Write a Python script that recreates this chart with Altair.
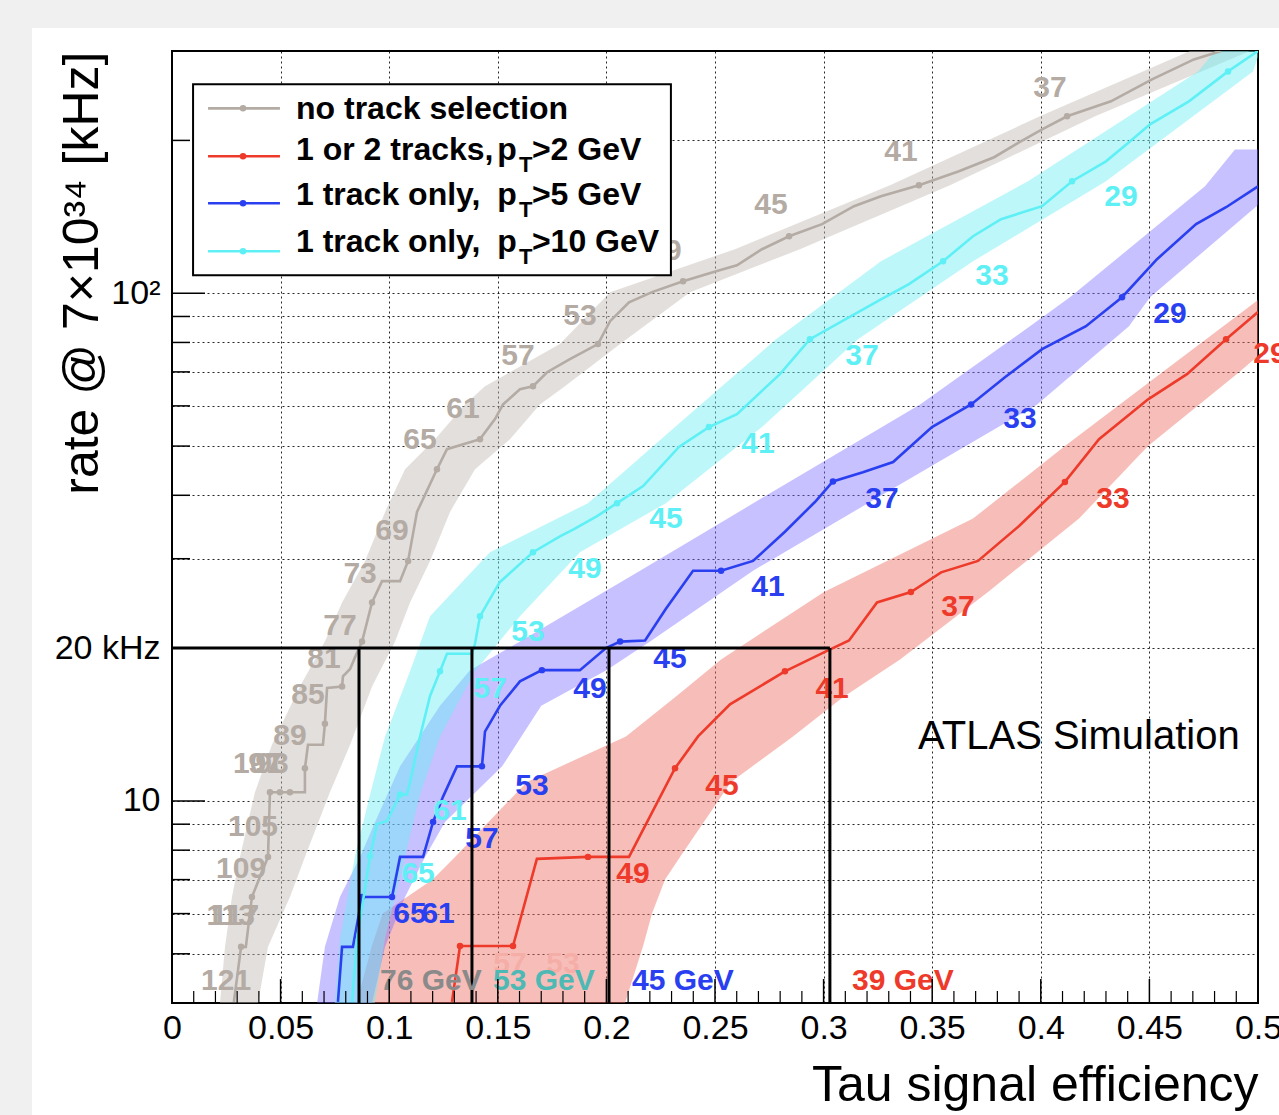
import altair as alt
import pandas as pd

W, H = 1086, 952
FONT = "Liberation Sans"

# ---------------- curves (efficiency, rate in kHz) ----------------
# no track selection (gray)
gray_eff = [0.0285, 0.0318, 0.0340, 0.0368, 0.0442, 0.0451, 0.0497, 0.0543, 0.0612, 0.0612,
            0.0626, 0.0695, 0.0704, 0.0714, 0.0783, 0.0787, 0.0820, 0.0843, 0.0875, 0.0921,
            0.0967, 0.1050, 0.1087, 0.1128, 0.1220, 0.1266, 0.1418, 0.1487, 0.1524, 0.1602,
            0.1662, 0.1727, 0.1832, 0.1961, 0.2017, 0.2104, 0.2210, 0.2353, 0.2505, 0.2601,
            0.2716, 0.2841, 0.2993, 0.3140, 0.3264, 0.3439, 0.3623, 0.3785, 0.3900, 0.4006,
            0.4121, 0.4323, 0.4512, 0.4705, 0.4830]
gray_rate = [4.02, 5.16, 5.16, 6.47, 7.76, 10.4, 10.4, 10.4, 10.4, 11.6,
             12.9, 12.9, 14.2, 16.7, 16.8, 17.6, 18.2, 19.2, 20.6, 24.6,
             27.1, 27.1, 29.7, 37.1, 45.0, 49.3, 51.6, 56.5, 60.4, 64.7,
             65.6, 69.9, 74.2, 79.4, 88.1, 96.0, 100.5, 105.6, 110.5, 113.5,
             122.1, 129.5, 136.8, 148.4, 155.2, 163.2, 173.9, 185.3, 198.3, 210.3,
             223.1, 238.8, 263.8, 288.8, 300.0]
gray_mark = [0, 1, 0, 1, 1, 1, 1, 1, 0, 1,
             0, 0, 1, 0, 1, 0, 0, 0, 1, 1,
             0, 0, 1, 0, 1, 0, 1, 0, 0, 0,
             1, 0, 0, 1, 0, 0, 0, 1, 0, 0,
             0, 1, 0, 0, 0, 1, 0, 0, 0, 0,
             1, 0, 0, 0, 0]

# 1 track only, pT > 10 GeV (cyan)
cyan_eff = [0.0829, 0.0852, 0.0912, 0.0944, 0.0990, 0.1050, 0.1082, 0.1096, 0.1142, 0.1188,
            0.1234, 0.1266, 0.1381, 0.1395, 0.1418, 0.1464, 0.1510, 0.1662, 0.1786, 0.1851,
            0.1957, 0.2049, 0.2169, 0.2334, 0.2472, 0.2601, 0.2799, 0.2937, 0.3264, 0.3393,
            0.3550, 0.3688, 0.3817, 0.4006, 0.4144, 0.4300, 0.4406, 0.4503, 0.4682, 0.4862,
            0.5000]
cyan_rate = [4.02, 5.35, 7.79, 9.01, 9.13, 10.3, 10.3, 10.9, 13.4, 16.1,
             18.0, 19.5, 19.5, 20.4, 23.1, 25.0, 27.0, 30.9, 33.2, 34.3,
             36.4, 38.6, 41.7, 49.8, 54.5, 57.8, 69.3, 81.2, 97.3, 104.2,
             115.6, 129.5, 139.9, 148.4, 166.2, 181.9, 198.3, 215.1, 238.8, 273.5,
             300.0]
cyan_mark = [0, 0, 1, 0, 0, 1, 0, 0, 0, 0,
             1, 0, 0, 0, 1, 0, 0, 1, 0, 0,
             0, 1, 0, 0, 1, 0, 0, 1, 0, 0,
             1, 0, 0, 0, 1, 0, 0, 0, 0, 1,
             0]

# 1 track only, pT > 5 GeV (blue)
blue_eff = [0.0764, 0.0783, 0.0833, 0.0875, 0.1013, 0.1050, 0.1156, 0.1202, 0.1248, 0.1312,
            0.1427, 0.1441, 0.1510, 0.1602, 0.1703, 0.1878, 0.1998, 0.2063, 0.2178, 0.2274,
            0.2399, 0.2528, 0.2675, 0.2822, 0.2960, 0.3043, 0.3181, 0.3320, 0.3499, 0.3679,
            0.3835, 0.4006, 0.4208, 0.4374, 0.4535, 0.4715, 0.4853, 0.5000]
blue_rate = [4.02, 5.16, 5.16, 6.47, 6.47, 7.76, 7.76, 9.09, 10.2, 11.7,
             11.7, 13.7, 15.4, 17.2, 18.1, 18.1, 20.0, 20.6, 20.7, 23.9,
             28.4, 28.4, 29.7, 33.9, 38.8, 42.6, 44.4, 46.5, 54.5, 60.4,
             68.3, 77.6, 86.1, 98.2, 116.7, 136.8, 147.7, 162.4]
blue_mark = [0, 0, 0, 1, 1, 0, 0, 1, 0, 0,
             1, 0, 0, 0, 1, 0, 0, 1, 0, 0,
             0, 1, 0, 0, 0, 1, 0, 0, 0, 1,
             0, 0, 0, 1, 0, 0, 0, 0]

# 1 or 2 tracks, pT > 2 GeV (red)
red_eff = [0.1289, 0.1326, 0.1570, 0.1680, 0.1915, 0.2104, 0.2316, 0.2422, 0.2569, 0.2822,
           0.3011, 0.3117, 0.3246, 0.3402, 0.3541, 0.3711, 0.3900, 0.4111, 0.4268, 0.4494,
           0.4673, 0.4853, 0.5000]
red_rate = [4.02, 5.18, 5.18, 7.69, 7.76, 7.76, 11.6, 13.4, 15.5, 18.0,
            19.7, 20.7, 24.6, 25.8, 28.2, 29.7, 34.8, 42.5, 51.6, 61.8,
            69.3, 81.2, 91.8]
red_mark = [0, 1, 1, 0, 1, 0, 1, 0, 0, 1,
            0, 0, 0, 1, 0, 0, 0, 1, 0, 0,
            0, 1, 0]

# ---------------- uncertainty bands (rate, efficiency low, efficiency high) ----------------
gray_band_rate = [4.0, 5.16, 6.47, 7.76, 10.4, 12.9, 16.8, 20.6, 24.6, 29.7, 37.1, 45.0, 51.6,
                  60.4, 65.6, 79.4, 100.5, 122.1, 163.2, 223.1, 300.0]
gray_band_lo = [0.0221, 0.0244, 0.0276, 0.0313, 0.0382, 0.0460, 0.0589, 0.0704, 0.0783, 0.0889,
                0.0981, 0.1073, 0.1211, 0.1349, 0.1441, 0.1786, 0.2017, 0.2592, 0.3306, 0.3996, 0.4687]
gray_band_hi = [0.0396, 0.0442, 0.0543, 0.0612, 0.0727, 0.0820, 0.0921, 0.1027, 0.1096, 0.1188,
                0.1280, 0.1395, 0.1556, 0.1694, 0.1809, 0.2063, 0.2385, 0.2891, 0.3582, 0.4250, 0.4963]

cyan_band_rate = [4.0, 5.35, 7.8, 10.3, 13.4, 18.0, 23.1, 30.9, 38.6, 54.5, 81.2, 115.6, 166.2, 273.5, 300.0]
cyan_band_lo = [0.0750, 0.0773, 0.0843, 0.0912, 0.0981, 0.1096, 0.1188, 0.1464, 0.1915, 0.2316,
                0.2781, 0.3264, 0.3941, 0.4724, 0.4802]
cyan_band_hi = [0.0934, 0.0980, 0.1073, 0.1142, 0.1234, 0.1395, 0.1602, 0.1878, 0.2274, 0.2716,
                0.3158, 0.3688, 0.4300, 0.4977, 0.5009]

blue_band_rate = [4.0, 5.16, 6.47, 7.76, 9.09, 11.7, 15.4, 18.1, 20.6, 28.4, 42.6, 60.4, 86.1, 98.2, 162.4, 192.0]
blue_band_lo = [0.0668, 0.0704, 0.0773, 0.0866, 0.0935, 0.1050, 0.1234, 0.1372, 0.1602, 0.2155,
                0.2845, 0.3444, 0.3950, 0.4134, 0.4756, 0.4894]
blue_band_hi = [0.0921, 0.0981, 0.1073, 0.1165, 0.1257, 0.1520, 0.1700, 0.2000, 0.2201, 0.2675,
                0.3375, 0.3983, 0.4406, 0.4503, 0.5100, 0.5300]

red_band_rate = [4.0, 5.18, 6.0, 7.0, 7.76, 10.9, 13.4, 16.0, 19.0, 25.8, 36.0, 50.0, 69.3, 97.0]
red_band_lo = [0.0850, 0.0920, 0.0970, 0.1200, 0.1303, 0.1634, 0.2090, 0.2316, 0.2528, 0.3002,
               0.3688, 0.4111, 0.4549, 0.5000]
red_band_hi = [0.2086, 0.2169, 0.2210, 0.2270, 0.2339, 0.2574, 0.2859, 0.3089, 0.3352, 0.3757,
               0.4176, 0.4494, 0.4903, 0.5300]

# ---------------- threshold labels (GeV) ----------------
gray_lab = ["121", "113", "117", "109", "105", "101", "97", "93", "89", "85", "81", "77", "73",
            "69", "65", "61", "57", "53", "49", "45", "41", "37"]
gray_lab_x = [0.0249, 0.0270, 0.0290, 0.0318, 0.0373, 0.0396, 0.0428, 0.0460, 0.0543, 0.0626,
              0.0700, 0.0773, 0.0866, 0.1013, 0.1142, 0.1340, 0.1593, 0.1878, 0.2270, 0.2758,
              0.3356, 0.4042]
gray_lab_y = [4.42, 5.94, 5.94, 7.35, 8.89, 11.8, 11.8, 11.8, 13.4, 16.2, 19.0, 22.1, 28.0,
              34.0, 51.4, 59.1, 75.2, 90.1, 121.0, 149.0, 190.0, 254.0]

cyan_lab = ["65", "61", "57", "53", "49", "45", "41", "37", "33", "29"]
cyan_lab_x = [0.1133, 0.1280, 0.1464, 0.1639, 0.1901, 0.2274, 0.2698, 0.3177, 0.3775, 0.4369]
cyan_lab_y = [7.18, 9.56, 16.6, 21.5, 28.6, 35.9, 50.4, 75.2, 108.0, 155.0]

blue_lab = ["65", "61", "57", "53", "49", "45", "41", "37", "33", "29"]
blue_lab_x = [0.1096, 0.1225, 0.1427, 0.1657, 0.1924, 0.2293, 0.2744, 0.3269, 0.3904, 0.4595]
blue_lab_y = [5.99, 5.99, 8.42, 10.7, 16.6, 19.0, 26.4, 39.3, 56.5, 90.9]

red_lab = ["49", "45", "41", "37", "33", "29"]
red_lab_x = [0.2122, 0.2532, 0.3039, 0.3619, 0.4332, 0.5055]
red_lab_y = [7.18, 10.7, 16.6, 24.1, 39.3, 75.9]
red_faint_lab = ["57", "53"]
red_faint_x = [0.1556, 0.1800]
red_faint_y = [4.78, 4.78]

# ---------------- 20 kHz working points ----------------
rate_target = 20.0
wp_eff = [0.0861, 0.1381, 0.2012, 0.3029]
wp_text = ["76 GeV", "53 GeV", "45 GeV", "39 GeV"]
wp_text_x = [0.0958, 0.1478, 0.2118, 0.3131]
wp_text_y = 4.42
wp_colors = ["#8a8a8a", "#4cb9b5", "#2a40f0", "#ee3a2a"]

# ---------------- legend ----------------
leg_first = ["no track selection", "1 or 2 tracks,", "1 track only,", "1 track only,"]
leg_tail = [">2 GeV", ">5 GeV", ">10 GeV"]
leg_text_rate = [230.3, 191.2, 155.9, 126.0]
leg_line_rate = [231.3, 186.1, 150.4, 121.0]

# ---------------- axes ----------------
x_tick_values = [0, 0.05, 0.1, 0.15, 0.2, 0.25, 0.3, 0.35, 0.4, 0.45, 0.5]
y_grid_values = [4, 5, 6, 7, 8, 9, 10, 20, 30, 40, 50, 60, 70, 80, 90, 100, 200, 300]
y_major_ticks = [10, 100]
y_minor_ticks = [4, 5, 6, 7, 8, 9, 20, 30, 40, 50, 60, 70, 80, 90, 200, 300]
x_minor_ticks = [round(0.01 * i, 2) for i in range(1, 50) if i % 5 != 0]

COL_GRAY, COL_RED, COL_BLUE, COL_CYAN = "#b3aba4", "#ee3a2a", "#2a3ff0", "#5ef0f5"

x_scale = alt.Scale(domain=[0, 0.5], nice=False, zero=False)
y_scale = alt.Scale(type="log", domain=[4, 300], nice=False)

x_axis = alt.Axis(values=x_tick_values, format=".2~f", labelFontSize=34, labelPadding=8,
                  labelFlush=False, labelColor="black", ticks=False, domain=False,
                  grid=True, gridColor="black", gridDash=[2, 3], gridWidth=1, gridOpacity=0.85,
                  title="Tau signal efficiency", titleFontSize=50, titleFontWeight="normal",
                  titleColor="black", titleX=W, titleY=97, titleAlign="right",
                  titleBaseline="alphabetic")
y_axis = alt.Axis(values=y_grid_values,
                  labelExpr="datum.value == 100 ? '10²' : datum.value == 20 ? '20 kHz' : datum.value == 10 ? '10' : ''",
                  labelFontSize=34, labelPadding=12, labelOverlap=False, labelColor="black",
                  ticks=False, domain=False,
                  grid=True, gridColor="black", gridDash=[2, 3], gridWidth=1, gridOpacity=0.85,
                  title="rate @ 7×10³⁴ [kHz]", titleFontSize=50, titleFontWeight="normal",
                  titleColor="black", titleAngle=270, titleX=-90, titleY=0,
                  titleAlign="right", titleBaseline="middle")


def X(f):
    return alt.X(f"{f}:Q", scale=x_scale, axis=x_axis)


def Y(f):
    return alt.Y(f"{f}:Q", scale=y_scale, axis=y_axis)


layers = []

# page border strips (screenshot frame)
one = pd.DataFrame({"k": [0]})
layers.append(alt.Chart(one).mark_rect(color="#f0f0f0").encode(
    x=alt.value(-172), x2=alt.value(W + 21), y=alt.value(-51), y2=alt.value(-23)))
layers.append(alt.Chart(one).mark_rect(color="#f0f0f0").encode(
    x=alt.value(-172), x2=alt.value(-140), y=alt.value(-51), y2=alt.value(H + 112)))

# bands
bands = [
    (gray_band_rate, gray_band_lo, gray_band_hi, "#c2b9b1", 0.45),
    (red_band_rate, red_band_lo, red_band_hi, "#ee6f63", 0.45),
    (blue_band_rate, blue_band_lo, blue_band_hi, "#7a6cff", 0.42),
    (cyan_band_rate, cyan_band_lo, cyan_band_hi, "#6ceef3", 0.45),
]
for r, lo, hi, col, op in bands:
    df = pd.DataFrame({"rate": r, "lo": lo, "hi": hi})
    layers.append(alt.Chart(df).mark_area(orient="horizontal", clip=True, color=col, fillOpacity=op).encode(
        y=Y("rate"), x=X("lo"), x2=alt.X2("hi:Q")))

# curves and markers
curves = [
    (gray_eff, gray_rate, gray_mark, COL_GRAY),
    (red_eff, red_rate, red_mark, COL_RED),
    (blue_eff, blue_rate, blue_mark, COL_BLUE),
    (cyan_eff, cyan_rate, cyan_mark, COL_CYAN),
]
for e, r, m, col in curves:
    df = pd.DataFrame({"eff": e, "rate": r, "mark": m, "i": list(range(len(e)))})
    layers.append(alt.Chart(df).mark_line(clip=True, color=col, strokeWidth=2.6).encode(
        x=X("eff"), y=Y("rate"), order=alt.Order("i:Q")))
    layers.append(alt.Chart(df[df["mark"] == 1]).mark_circle(clip=True, color=col, opacity=1, size=42).encode(
        x=X("eff"), y=Y("rate")))

# threshold labels
labels = [
    (gray_lab, gray_lab_x, gray_lab_y, "#b3aba4"),
    (cyan_lab, cyan_lab_x, cyan_lab_y, COL_CYAN),
    (blue_lab, blue_lab_x, blue_lab_y, COL_BLUE),
    (red_lab, red_lab_x, red_lab_y, COL_RED),
    (red_faint_lab, red_faint_x, red_faint_y, "#f5aea7"),
]
for t, lx, ly, col in labels:
    df = pd.DataFrame({"t": t, "x": lx, "y": ly})
    layers.append(alt.Chart(df).mark_text(color=col, fontSize=30, fontWeight="bold", font=FONT,
                                          align="center", baseline="middle").encode(
        x=X("x"), y=Y("y"), text="t:N"))

# 20 kHz working-point lines
hdf = pd.DataFrame({"x0": [0.0], "x1": [max(wp_eff)], "y": [rate_target]})
layers.append(alt.Chart(hdf).mark_rule(color="black", strokeWidth=3).encode(
    x=X("x0"), x2="x1", y=Y("y")))
vdf = pd.DataFrame({"x": wp_eff, "y0": [4.0] * len(wp_eff), "y1": [rate_target] * len(wp_eff)})
layers.append(alt.Chart(vdf).mark_rule(color="black", strokeWidth=3).encode(
    x=X("x"), y=Y("y0"), y2="y1"))
for txt, tx, col in zip(wp_text, wp_text_x, wp_colors):
    df = pd.DataFrame({"t": [txt], "x": [tx], "y": [wp_text_y]})
    layers.append(alt.Chart(df).mark_text(color=col, fontSize=30, fontWeight="bold", font=FONT,
                                          align="left", baseline="middle").encode(
        x=X("x"), y=Y("y"), text="t:N"))

# legend box
box = pd.DataFrame({"x0": [0.0097], "x1": [0.2297], "y0": [108.5], "y1": [257.9]})
layers.append(alt.Chart(box).mark_rect(fill="white", stroke="black", strokeWidth=2).encode(
    x=X("x0"), x2="x1", y=Y("y0"), y2="y1"))
leg_cols = [COL_GRAY, COL_RED, COL_BLUE, COL_CYAN]
ldf = pd.DataFrame({"x0": [0.0166] * 4, "x1": [0.0497] * 4, "xm": [0.0327] * 4,
                    "y": leg_line_rate, "c": leg_cols})
layers.append(alt.Chart(ldf).mark_rule(strokeWidth=2.6).encode(
    x=X("x0"), x2="x1", y=Y("y"), color=alt.Color("c:N", scale=None)))
layers.append(alt.Chart(ldf).mark_circle(size=42, opacity=1).encode(
    x=X("xm"), y=Y("y"), color=alt.Color("c:N", scale=None)))
first = pd.DataFrame({"t": leg_first, "x": [0.0571] * 4, "y": leg_text_rate})
layers.append(alt.Chart(first).mark_text(fontSize=32, fontWeight="bold", font=FONT, color="black",
                                         align="left", baseline="middle").encode(
    x=X("x"), y=Y("y"), text="t:N"))
rows = pd.DataFrame({"p": ["p"] * 3, "tail": leg_tail, "x": [0.1588] * 3,
                     "xs": [0.1598] * 3, "xt": [0.1657] * 3, "y": leg_text_rate[1:],
                     "sub": ["T"] * 3})
layers.append(alt.Chart(rows).mark_text(fontSize=32, fontWeight="bold", font=FONT, color="black",
                                        align="right", baseline="middle").encode(
    x=X("x"), y=Y("y"), text="p:N"))
layers.append(alt.Chart(rows).mark_text(fontSize=22, fontWeight="bold", font=FONT, color="black",
                                        align="left", baseline="middle", dy=15).encode(
    x=X("xs"), y=Y("y"), text="sub:N"))
layers.append(alt.Chart(rows).mark_text(fontSize=32, fontWeight="bold", font=FONT, color="black",
                                        align="left", baseline="middle").encode(
    x=X("xt"), y=Y("y"), text="tail:N"))

# ATLAS label
atl = pd.DataFrame({"t": ["ATLAS Simulation"], "x": [0.3435], "y": [13.36]})
layers.append(alt.Chart(atl).mark_text(fontSize=40, font=FONT, color="black", align="left",
                                       baseline="middle").encode(x=X("x"), y=Y("y"), text="t:N"))

# inner ticks (ROOT style)
layers.append(alt.Chart(pd.DataFrame({"v": y_major_ticks})).mark_rule(color="black", strokeWidth=1.5).encode(
    y=Y("v"), x=alt.value(0), x2=alt.value(33)))
layers.append(alt.Chart(pd.DataFrame({"v": y_minor_ticks})).mark_rule(color="black", strokeWidth=1.5).encode(
    y=Y("v"), x=alt.value(0), x2=alt.value(18)))
layers.append(alt.Chart(pd.DataFrame({"v": x_tick_values})).mark_rule(color="black", strokeWidth=1.5).encode(
    x=X("v"), y=alt.value(H), y2=alt.value(H - 24)))
layers.append(alt.Chart(pd.DataFrame({"v": x_minor_ticks})).mark_rule(color="black", strokeWidth=1.2).encode(
    x=X("v"), y=alt.value(H), y2=alt.value(H - 12)))

chart = alt.layer(*layers).properties(
    width=W, height=H,
    padding={"left": 172, "top": 51, "right": 21, "bottom": 112},
    autosize=alt.AutoSizeParams(type="none"),
).configure(font=FONT, background="white").configure_view(stroke="black", strokeWidth=2)

chart.save("out.html", embed_options={"renderer": "svg", "actions": False})
